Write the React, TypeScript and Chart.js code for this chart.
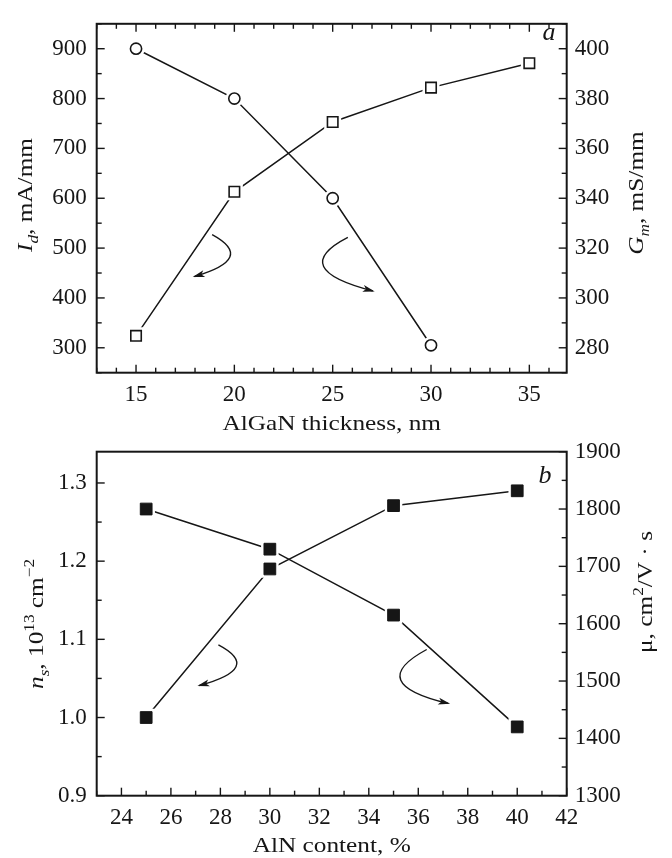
import React, { useEffect, useRef } from "react";
import { Chart, registerables } from "chart.js";

Chart.register(...registerables);

const SERIF = '"Liberation Serif", "Times New Roman", Times, serif';
const INK = "#161616";
const W = 672;
const H = 858;

// ---------------- Panel a: AlGaN thickness ----------------
const aThickness = [15, 20, 25, 30, 35];
const aDrainCurrent = [324, 613, 753, 822, 871]; // I_d, mA/mm (open squares, left axis)
const aGmThickness = [15, 20, 25, 30];
const aTransconductance = [400, 380, 340, 281]; // G_m, mS/mm (open circles, right axis)
const aXTicks = [15, 20, 25, 30, 35];
const aYLeftTicks = [300, 400, 500, 600, 700, 800, 900];
const aYRightTicks = [280, 300, 320, 340, 360, 380, 400];
const aArrowToLeft = [[18.87, 527], [19.77, 482], [17.98, 443]];
const aArrowToRight = [[25.77, 324.3], [24.54, 312.6], [27.04, 302.8]];

// ---------------- Panel b: AlN content ----------------
const bAlnContent = [25, 30, 35, 40];
const bSheetDensity = [1.0, 1.19, 1.271, 1.29]; // n_s, 1e13 cm^-2 (left axis)
const bMobility = [1800, 1730, 1615, 1420]; // mu, cm2/V s (right axis)
const bXTicks = [24, 26, 28, 30, 32, 34, 36, 38, 40, 42];
const bYLeftTicks = [0.9, 1.0, 1.1, 1.2, 1.3];
const bYRightTicks = [1300, 1400, 1500, 1600, 1700, 1800, 1900];
const bArrowToLeft = [[27.92, 1.093], [28.63, 1.065], [27.15, 1.041]];
const bArrowToRight = [[36.34, 1555], [35.29, 1502], [37.21, 1461]];

function steps(from: number, to: number, step: number, skip: number[]) {
  const out: number[] = [];
  const n = Math.round((to - from) / step);
  for (let i = 0; i <= n; i++) {
    const v = +(from + i * step).toFixed(4);
    if (!skip.some((s) => Math.abs(s - v) < 1e-6)) out.push(v);
  }
  return out;
}

type Run = { t: string; it?: boolean; sub?: boolean; sup?: boolean };
type TickSpec = { id: string; side: "top" | "bottom" | "left" | "right"; major: number[]; minor: number[] };
type Deco = {
  ticks: TickSpec[];
  arrows: { axis: string; pts: number[][] }[];
  titles: { runs: Run[]; x: number; y: number; rot: boolean }[];
  letter: { t: string; x: number; y: number };
};

const TITLE_SIZE = 22;
const STRETCH = 1.15;

function drawRich(ctx: CanvasRenderingContext2D, runs: Run[], x: number, y: number, rot: boolean) {
  ctx.save();
  ctx.translate(x, y);
  if (rot) ctx.rotate(-Math.PI / 2);
  ctx.scale(STRETCH, 1);
  const fontOf = (r: Run) => {
    const s = r.sub || r.sup ? TITLE_SIZE * 0.68 : TITLE_SIZE;
    return `${r.it ? "italic " : ""}${s}px ${SERIF}`;
  };
  let total = 0;
  const widths = runs.map((r) => {
    ctx.font = fontOf(r);
    const w = ctx.measureText(r.t).width;
    total += w;
    return w;
  });
  let cx = -total / 2;
  ctx.textBaseline = "alphabetic";
  ctx.textAlign = "left";
  runs.forEach((r, i) => {
    ctx.font = fontOf(r);
    const dy = r.sub ? TITLE_SIZE * 0.25 : r.sup ? -TITLE_SIZE * 0.42 : 0;
    ctx.fillText(r.t, cx, dy);
    cx += widths[i];
  });
  ctx.restore();
}

function makeDecor(deco: Deco) {
  return {
    id: "decor",
    afterDatasetsDraw(chart: any) {
      const ctx: CanvasRenderingContext2D = chart.ctx;
      const ca = chart.chartArea;
      ctx.save();
      ctx.strokeStyle = INK;
      ctx.fillStyle = INK;
      ctx.lineWidth = 1.4;
      for (const t of deco.ticks) {
        const sc = chart.scales[t.id];
        const draw = (v: number, len: number) => {
          const p = sc.getPixelForValue(v);
          ctx.beginPath();
          if (t.side === "bottom") { ctx.moveTo(p, ca.bottom); ctx.lineTo(p, ca.bottom - len); }
          if (t.side === "top") { ctx.moveTo(p, ca.top); ctx.lineTo(p, ca.top + len); }
          if (t.side === "left") { ctx.moveTo(ca.left, p); ctx.lineTo(ca.left + len, p); }
          if (t.side === "right") { ctx.moveTo(ca.right, p); ctx.lineTo(ca.right - len, p); }
          ctx.stroke();
        };
        t.major.forEach((v) => draw(v, 8));
        t.minor.forEach((v) => draw(v, 5));
      }
      ctx.lineWidth = 2;
      ctx.strokeRect(ca.left, ca.top, ca.right - ca.left, ca.bottom - ca.top);

      // curved arrows pointing to the axis each curve belongs to
      ctx.lineWidth = 1.4;
      for (const a of deco.arrows) {
        const xs = chart.scales.x;
        const ys = chart.scales[a.axis];
        const P = a.pts.map((p) => [xs.getPixelForValue(p[0]), ys.getPixelForValue(p[1])]);
        const c = [2 * P[1][0] - (P[0][0] + P[2][0]) / 2, 2 * P[1][1] - (P[0][1] + P[2][1]) / 2];
        ctx.beginPath();
        ctx.moveTo(P[0][0], P[0][1]);
        ctx.quadraticCurveTo(c[0], c[1], P[2][0], P[2][1]);
        ctx.stroke();
        const dx = P[2][0] - c[0];
        const dy = P[2][1] - c[1];
        const L = Math.hypot(dx, dy);
        const ux = dx / L, uy = dy / L;
        const hl = 10, hw = 3.5;
        ctx.beginPath();
        ctx.moveTo(P[2][0] + ux * 2, P[2][1] + uy * 2);
        ctx.lineTo(P[2][0] - ux * hl - uy * hw, P[2][1] - uy * hl + ux * hw);
        ctx.lineTo(P[2][0] - ux * hl * 0.7, P[2][1] - uy * hl * 0.7);
        ctx.lineTo(P[2][0] - ux * hl + uy * hw, P[2][1] - uy * hl - ux * hw);
        ctx.closePath();
        ctx.fill();
      }

      for (const t of deco.titles) drawRich(ctx, t.runs, t.x, t.y, t.rot);

      ctx.font = `italic 26px ${SERIF}`;
      ctx.textAlign = "center";
      ctx.textBaseline = "alphabetic";
      ctx.fillText(deco.letter.t, deco.letter.x, deco.letter.y);
      ctx.restore();
    },
  };
}

function linScale(o: {
  position: string; min: number; max: number; ticks: number[]; pad: number; size: number; fmt: (v: number) => string;
}) {
  const horizontal = o.position === "bottom" || o.position === "top";
  return {
    type: "linear",
    position: o.position,
    min: o.min,
    max: o.max,
    grid: { display: false, drawTicks: false },
    border: { display: false },
    ticks: {
      autoSkip: false,
      maxRotation: 0,
      minRotation: 0,
      padding: o.pad,
      color: INK,
      font: { family: SERIF, size: 23 },
      callback: (v: any) => o.fmt(Number(v)),
    },
    afterBuildTicks: (s: any) => {
      s.ticks = o.ticks.map((v) => ({ value: v }));
    },
    afterFit: (s: any) => {
      if (horizontal) s.height = o.size;
      else s.width = o.size;
    },
  };
}

function seriesSets(xs: number[], ys: number[], axis: string, style: string, r: number, halo: number, fill: string, bw: number) {
  const data = xs.map((x, i) => ({ x, y: ys[i] }));
  return [
    { data, yAxisID: axis, borderColor: INK, borderWidth: 1.5, pointRadius: 0, fill: false, tension: 0, order: 2 },
    {
      data, yAxisID: axis, showLine: false, pointStyle: style, pointRadius: halo,
      pointBackgroundColor: "#ffffff", pointBorderColor: "#ffffff", pointBorderWidth: 0, order: 1,
    },
    {
      data, yAxisID: axis, showLine: false, pointStyle: style, pointRadius: r,
      pointBackgroundColor: fill, pointBorderColor: INK, pointBorderWidth: bw, order: 0,
    },
  ];
}

const fmtInt = (v: number) => String(Math.round(v));
const fmtOne = (v: number) => v.toFixed(1);

function configA(): any {
  const deco: Deco = {
    ticks: [
      { id: "x", side: "bottom", major: aXTicks, minor: steps(13, 36, 1, aXTicks) },
      { id: "x", side: "top", major: aXTicks, minor: steps(13, 36, 1, aXTicks) },
      { id: "y", side: "left", major: aYLeftTicks, minor: steps(250, 950, 50, aYLeftTicks) },
      { id: "y1", side: "right", major: aYRightTicks, minor: steps(270, 410, 10, aYRightTicks) },
    ],
    arrows: [
      { axis: "y", pts: aArrowToLeft },
      { axis: "y1", pts: aArrowToRight },
    ],
    titles: [
      { runs: [{ t: "AlGaN thickness, nm" }], x: 331.7, y: 430, rot: false },
      { runs: [{ t: "I", it: true }, { t: "d", it: true, sub: true }, { t: ", mA/mm" }], x: 32, y: 195, rot: true },
      { runs: [{ t: "G", it: true }, { t: "m", it: true, sub: true }, { t: ", mS/mm" }], x: 643, y: 193, rot: true },
    ],
    letter: { t: "a", x: 549, y: 40 },
  };
  return {
    type: "line",
    data: {
      datasets: [
        ...seriesSets(aThickness, aDrainCurrent, "y", "rect", 7.4, 12, "#ffffff", 1.6),
        ...seriesSets(aGmThickness, aTransconductance, "y1", "circle", 5.6, 8.9, "#ffffff", 1.6),
      ],
    },
    options: {
      responsive: false,
      animation: false,
      events: [],
      layout: { padding: { top: 12.3, bottom: H - 372.7 - 50, left: 0, right: 0 } },
      plugins: { legend: { display: false }, tooltip: { enabled: false } },
      scales: {
        x: linScale({ position: "bottom", min: 13, max: 36.9, ticks: aXTicks, pad: 8, size: 50, fmt: fmtInt }),
        y: linScale({ position: "left", min: 250, max: 950, ticks: aYLeftTicks, pad: 10, size: 96.7, fmt: fmtInt }),
        y1: linScale({ position: "right", min: 270, max: 410, ticks: aYRightTicks, pad: 8, size: W - 566.7, fmt: fmtInt }),
      },
    },
    plugins: [makeDecor(deco)],
  };
}

function configB(): any {
  const deco: Deco = {
    ticks: [
      { id: "x", side: "bottom", major: bXTicks, minor: steps(23, 41, 1, bXTicks) },
      { id: "y", side: "left", major: bYLeftTicks, minor: steps(0.95, 1.3, 0.05, bYLeftTicks) },
      { id: "y1", side: "right", major: bYRightTicks, minor: steps(1350, 1850, 50, bYRightTicks) },
    ],
    arrows: [
      { axis: "y", pts: bArrowToLeft },
      { axis: "y1", pts: bArrowToRight },
    ],
    titles: [
      { runs: [{ t: "AlN content, %" }], x: 331.7, y: 852, rot: false },
      {
        runs: [
          { t: "n", it: true }, { t: "s", it: true, sub: true }, { t: ", 10" }, { t: "13", sup: true },
          { t: " cm" }, { t: "\u22122", sup: true },
        ],
        x: 43, y: 624, rot: true,
      },
      { runs: [{ t: "\u03bc, cm" }, { t: "2", sup: true }, { t: "/V \u00b7 s" }], x: 652, y: 592, rot: true },
    ],
    letter: { t: "b", x: 545, y: 483 },
  };
  return {
    type: "line",
    data: {
      datasets: [
        ...seriesSets(bAlnContent, bSheetDensity, "y", "rect", 8.3, 12.4, INK, 1),
        ...seriesSets(bAlnContent, bMobility, "y1", "rect", 8.3, 12.4, INK, 1),
      ],
    },
    options: {
      responsive: false,
      animation: false,
      events: [],
      layout: { padding: { top: 451.7, bottom: H - 795.7 - 50, left: 0, right: 0 } },
      plugins: { legend: { display: false }, tooltip: { enabled: false } },
      scales: {
        x: linScale({ position: "bottom", min: 23, max: 42, ticks: bXTicks, pad: 8, size: 50, fmt: fmtInt }),
        y: linScale({ position: "left", min: 0.9, max: 1.34, ticks: bYLeftTicks, pad: 10, size: 96.7, fmt: fmtOne }),
        y1: linScale({ position: "right", min: 1300, max: 1900, ticks: bYRightTicks, pad: 8, size: W - 566.7, fmt: fmtInt }),
      },
    },
    plugins: [makeDecor(deco)],
  };
}

export default function App() {
  const aRef = useRef<HTMLCanvasElement>(null);
  const bRef = useRef<HTMLCanvasElement>(null);
  useEffect(() => {
    const ca = new Chart(aRef.current as HTMLCanvasElement, configA());
    const cb = new Chart(bRef.current as HTMLCanvasElement, configB());
    return () => {
      ca.destroy();
      cb.destroy();
    };
  }, []);
  return (
    <div style={{ position: "absolute", left: 0, top: 0, width: W, height: H, background: "#ffffff" }}>
      <canvas ref={aRef} width={W} height={H} style={{ position: "absolute", left: 0, top: 0 }} />
      <canvas ref={bRef} width={W} height={H} style={{ position: "absolute", left: 0, top: 0 }} />
    </div>
  );
}
